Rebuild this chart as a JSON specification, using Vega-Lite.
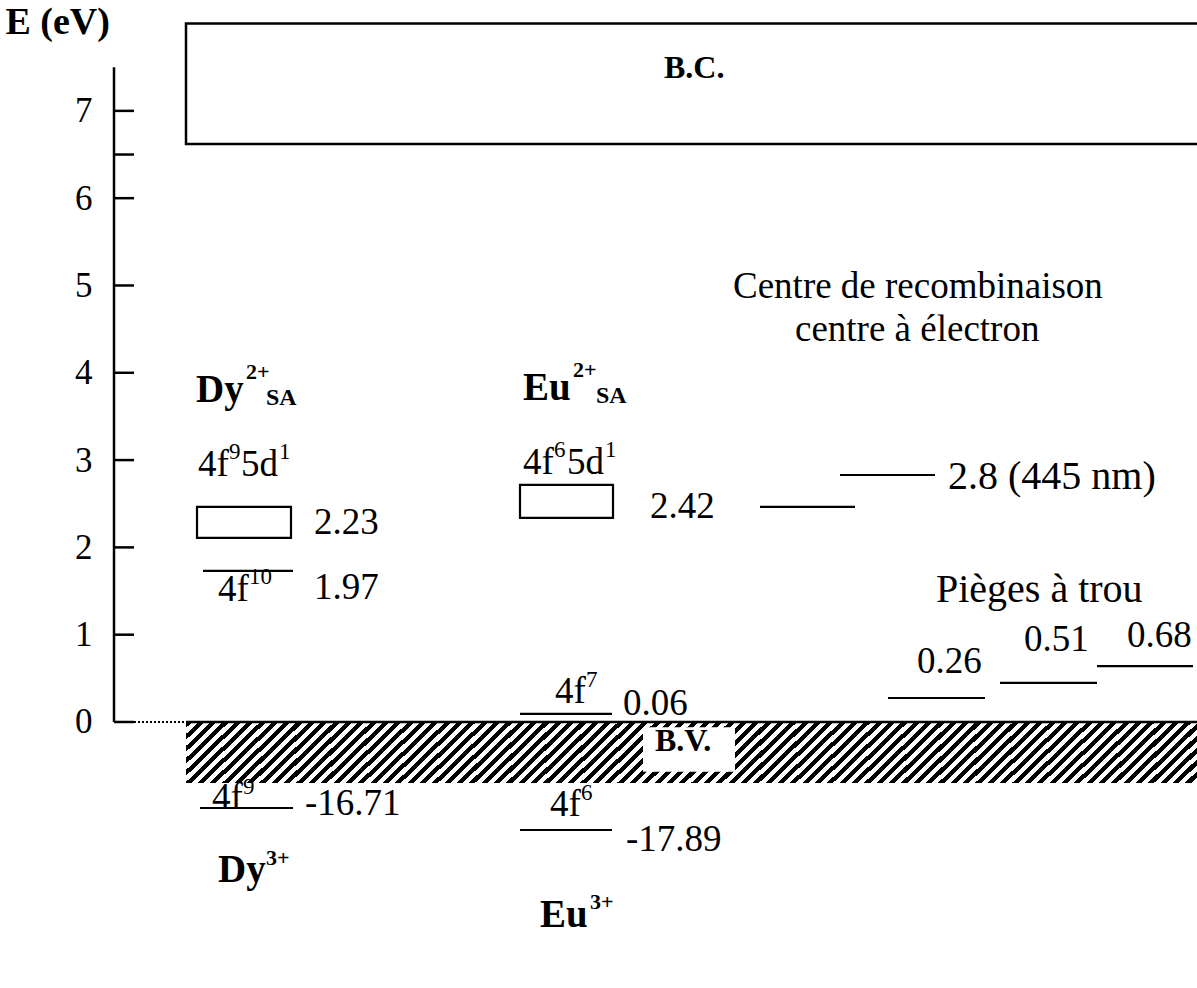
{
  "$schema": "https://vega.github.io/schema/vega-lite/v6.json",
  "width": 1083,
  "height": 988,
  "autosize": {"type": "none"},
  "padding": {"left": 114, "top": 0, "right": 0, "bottom": 0},
  "background": "white",
  "config": {"view": {"stroke": null}, "font": "Liberation Serif"},
  "datasets": {
    "bands": [{"name": "B.V.", "x": 72, "x2": 1083, "y": 0, "y2": -0.70}],
    "bvbox": [{"name": "B.V. label", "x": 529, "x2": 621, "y": -0.06, "y2": -0.57}],
    "bc": [{"name": "B.C.", "x": 72, "x2": 1095, "y": 6.62, "y2": 8.0}],
    "frame": [
      {"part": "axis", "x": 0, "x2": 0, "y": 0, "y2": 7.5},
      {"part": "tick", "x": 0, "x2": 20, "y": 0, "y2": 0},
      {"part": "tick", "x": 0, "x2": 20, "y": 1, "y2": 1},
      {"part": "tick", "x": 0, "x2": 20, "y": 2, "y2": 2},
      {"part": "tick", "x": 0, "x2": 20, "y": 3, "y2": 3},
      {"part": "tick", "x": 0, "x2": 20, "y": 4, "y2": 4},
      {"part": "tick", "x": 0, "x2": 20, "y": 5, "y2": 5},
      {"part": "tick", "x": 0, "x2": 20, "y": 6, "y2": 6},
      {"part": "tick", "x": 0, "x2": 20, "y": 6.5, "y2": 6.5},
      {"part": "tick", "x": 0, "x2": 20, "y": 7, "y2": 7},
      {"part": "zero", "x": 20, "x2": 72, "y": 0, "y2": 0}
    ],
    "boxes": [
      {"name": "Dy 4f9 5d1", "x": 83, "x2": 177, "y": 2.108, "y2": 2.463},
      {"name": "Eu 4f6 5d1", "x": 406, "x2": 499, "y": 2.337, "y2": 2.715}
    ],
    "levels": [
      {"name": "Dy 4f10", "x": 89, "x2": 179, "y": 1.730},
      {"name": "Eu 2.42", "x": 646, "x2": 741, "y": 2.463},
      {"name": "2.8 (445 nm)", "x": 726, "x2": 821, "y": 2.829},
      {"name": "trap 0.26", "x": 774, "x2": 871, "y": 0.275},
      {"name": "trap 0.51", "x": 886, "x2": 983, "y": 0.447},
      {"name": "trap 0.68", "x": 983, "x2": 1079, "y": 0.641},
      {"name": "Eu 4f7", "x": 406, "x2": 498, "y": 0.092},
      {"name": "Dy 4f9", "x": 86, "x2": 179, "y": -0.985},
      {"name": "Eu 4f6", "x": 406, "x2": 498, "y": -1.237}
    ],
    "texts": [
      {"t": "Centre de recombinaison", "x": 619, "y": 4.983, "role": "label"},
      {"t": "centre à électron", "x": 681, "y": 4.490, "role": "label"},
      {"t": "4f", "x": 84, "y": 2.944, "role": "label"},
      {"t": "5d", "x": 127, "y": 2.944, "role": "label"},
      {"t": "4f", "x": 409, "y": 2.967, "role": "label"},
      {"t": "5d", "x": 453, "y": 2.967, "role": "label"},
      {"t": "2.23", "x": 200, "y": 2.280, "role": "label"},
      {"t": "2.42", "x": 536, "y": 2.463, "role": "label"},
      {"t": "2.8 (445 nm)", "x": 834, "y": 2.806, "role": "label-wide"},
      {"t": "4f", "x": 104, "y": 1.512, "role": "label"},
      {"t": "1.97", "x": 200, "y": 1.535, "role": "label"},
      {"t": "Pièges à trou", "x": 822, "y": 1.512, "role": "label-wide"},
      {"t": "0.26", "x": 803, "y": 0.687, "role": "label"},
      {"t": "0.51", "x": 910, "y": 0.939, "role": "label"},
      {"t": "0.68", "x": 1013, "y": 0.985, "role": "label"},
      {"t": "4f", "x": 441, "y": 0.344, "role": "label"},
      {"t": "0.06", "x": 509, "y": 0.206, "role": "label"},
      {"t": "4f", "x": 98, "y": -0.871, "role": "label"},
      {"t": "-16.71", "x": 191, "y": -0.939, "role": "label"},
      {"t": "4f", "x": 436, "y": -0.951, "role": "label"},
      {"t": "-17.89", "x": 512, "y": -1.352, "role": "label"},
      {"t": "9", "x": 115, "y": 3.093, "role": "sup"},
      {"t": "1", "x": 165, "y": 3.093, "role": "sup"},
      {"t": "6", "x": 440, "y": 3.116, "role": "sup"},
      {"t": "1", "x": 491, "y": 3.116, "role": "sup"},
      {"t": "10", "x": 135, "y": 1.661, "role": "sup"},
      {"t": "7", "x": 472, "y": 0.481, "role": "sup"},
      {"t": "9", "x": 129, "y": -0.750, "role": "sup"},
      {"t": "6", "x": 467, "y": -0.813, "role": "sup"},
      {"t": "Dy", "x": 82, "y": 3.803, "role": "ion"},
      {"t": "Eu", "x": 409, "y": 3.826, "role": "ion"},
      {"t": "Dy", "x": 104, "y": -1.695, "role": "ion"},
      {"t": "Eu", "x": 426, "y": -2.211, "role": "ion"},
      {"t": "B.C.", "x": 550, "y": 7.491, "role": "band"},
      {"t": "B.V.", "x": 541, "y": -0.218, "role": "band"},
      {"t": "2+", "x": 132, "y": 4.009, "role": "ion-sup"},
      {"t": "2+", "x": 459, "y": 4.032, "role": "ion-sup"},
      {"t": "3+", "x": 152, "y": -1.558, "role": "ion-sup"},
      {"t": "3+", "x": 476, "y": -2.062, "role": "ion-sup"},
      {"t": "SA", "x": 152, "y": 3.711, "role": "ion-sub"},
      {"t": "SA", "x": 482, "y": 3.734, "role": "ion-sub"}
    ]
  },
  "encoding": {
    "x": {"field": "x", "type": "quantitative", "scale": {"domain": [0, 1083], "nice": false, "zero": false}, "axis": null},
    "y": {
      "field": "y", "type": "quantitative",
      "scale": {"domain": [-3.047, 8.270], "nice": false, "zero": false},
      "axis": {
        "values": [0, 1, 2, 3, 4, 5, 6, 7], "ticks": false, "domain": false, "grid": false,
        "labelFont": "Liberation Serif", "labelFontSize": 35, "labelColor": "#000", "labelPadding": 22,
        "title": "E (eV)", "titleAngle": 0, "titleX": -109, "titleY": 22, "titleAlign": "left", "titleBaseline": "middle",
        "titleFont": "Liberation Serif", "titleFontSize": 38, "titleFontWeight": "bold", "titleColor": "#000"
      }
    }
  },
  "layer": [
    {
      "data": {"name": "bands"},
      "mark": {"type": "rect", "fill": {"gradient": "linear", "x1": 0, "y1": 0, "x2": 1.0582, "y2": 0.0659, "stops": [
{"offset":0,"color":"#000"},
{"offset":0.0057,"color":"#000"},{"offset":0.0057,"color":"#fff"},
{"offset":0.0115,"color":"#fff"},{"offset":0.0115,"color":"#000"},
{"offset":0.0172,"color":"#000"},{"offset":0.0172,"color":"#fff"},
{"offset":0.0230,"color":"#fff"},{"offset":0.0230,"color":"#000"},
{"offset":0.0287,"color":"#000"},{"offset":0.0287,"color":"#fff"},
{"offset":0.0345,"color":"#fff"},{"offset":0.0345,"color":"#000"},
{"offset":0.0402,"color":"#000"},{"offset":0.0402,"color":"#fff"},
{"offset":0.0460,"color":"#fff"},{"offset":0.0460,"color":"#000"},
{"offset":0.0517,"color":"#000"},{"offset":0.0517,"color":"#fff"},
{"offset":0.0575,"color":"#fff"},{"offset":0.0575,"color":"#000"},
{"offset":0.0632,"color":"#000"},{"offset":0.0632,"color":"#fff"},
{"offset":0.0690,"color":"#fff"},{"offset":0.0690,"color":"#000"},
{"offset":0.0747,"color":"#000"},{"offset":0.0747,"color":"#fff"},
{"offset":0.0805,"color":"#fff"},{"offset":0.0805,"color":"#000"},
{"offset":0.0862,"color":"#000"},{"offset":0.0862,"color":"#fff"},
{"offset":0.0920,"color":"#fff"},{"offset":0.0920,"color":"#000"},
{"offset":0.0977,"color":"#000"},{"offset":0.0977,"color":"#fff"},
{"offset":0.1034,"color":"#fff"},{"offset":0.1034,"color":"#000"},
{"offset":0.1092,"color":"#000"},{"offset":0.1092,"color":"#fff"},
{"offset":0.1149,"color":"#fff"},{"offset":0.1149,"color":"#000"},
{"offset":0.1207,"color":"#000"},{"offset":0.1207,"color":"#fff"},
{"offset":0.1264,"color":"#fff"},{"offset":0.1264,"color":"#000"},
{"offset":0.1322,"color":"#000"},{"offset":0.1322,"color":"#fff"},
{"offset":0.1379,"color":"#fff"},{"offset":0.1379,"color":"#000"},
{"offset":0.1437,"color":"#000"},{"offset":0.1437,"color":"#fff"},
{"offset":0.1494,"color":"#fff"},{"offset":0.1494,"color":"#000"},
{"offset":0.1552,"color":"#000"},{"offset":0.1552,"color":"#fff"},
{"offset":0.1609,"color":"#fff"},{"offset":0.1609,"color":"#000"},
{"offset":0.1667,"color":"#000"},{"offset":0.1667,"color":"#fff"},
{"offset":0.1724,"color":"#fff"},{"offset":0.1724,"color":"#000"},
{"offset":0.1782,"color":"#000"},{"offset":0.1782,"color":"#fff"},
{"offset":0.1839,"color":"#fff"},{"offset":0.1839,"color":"#000"},
{"offset":0.1897,"color":"#000"},{"offset":0.1897,"color":"#fff"},
{"offset":0.1954,"color":"#fff"},{"offset":0.1954,"color":"#000"},
{"offset":0.2011,"color":"#000"},{"offset":0.2011,"color":"#fff"},
{"offset":0.2069,"color":"#fff"},{"offset":0.2069,"color":"#000"},
{"offset":0.2126,"color":"#000"},{"offset":0.2126,"color":"#fff"},
{"offset":0.2184,"color":"#fff"},{"offset":0.2184,"color":"#000"},
{"offset":0.2241,"color":"#000"},{"offset":0.2241,"color":"#fff"},
{"offset":0.2299,"color":"#fff"},{"offset":0.2299,"color":"#000"},
{"offset":0.2356,"color":"#000"},{"offset":0.2356,"color":"#fff"},
{"offset":0.2414,"color":"#fff"},{"offset":0.2414,"color":"#000"},
{"offset":0.2471,"color":"#000"},{"offset":0.2471,"color":"#fff"},
{"offset":0.2529,"color":"#fff"},{"offset":0.2529,"color":"#000"},
{"offset":0.2586,"color":"#000"},{"offset":0.2586,"color":"#fff"},
{"offset":0.2644,"color":"#fff"},{"offset":0.2644,"color":"#000"},
{"offset":0.2701,"color":"#000"},{"offset":0.2701,"color":"#fff"},
{"offset":0.2759,"color":"#fff"},{"offset":0.2759,"color":"#000"},
{"offset":0.2816,"color":"#000"},{"offset":0.2816,"color":"#fff"},
{"offset":0.2874,"color":"#fff"},{"offset":0.2874,"color":"#000"},
{"offset":0.2931,"color":"#000"},{"offset":0.2931,"color":"#fff"},
{"offset":0.2989,"color":"#fff"},{"offset":0.2989,"color":"#000"},
{"offset":0.3046,"color":"#000"},{"offset":0.3046,"color":"#fff"},
{"offset":0.3103,"color":"#fff"},{"offset":0.3103,"color":"#000"},
{"offset":0.3161,"color":"#000"},{"offset":0.3161,"color":"#fff"},
{"offset":0.3218,"color":"#fff"},{"offset":0.3218,"color":"#000"},
{"offset":0.3276,"color":"#000"},{"offset":0.3276,"color":"#fff"},
{"offset":0.3333,"color":"#fff"},{"offset":0.3333,"color":"#000"},
{"offset":0.3391,"color":"#000"},{"offset":0.3391,"color":"#fff"},
{"offset":0.3448,"color":"#fff"},{"offset":0.3448,"color":"#000"},
{"offset":0.3506,"color":"#000"},{"offset":0.3506,"color":"#fff"},
{"offset":0.3563,"color":"#fff"},{"offset":0.3563,"color":"#000"},
{"offset":0.3621,"color":"#000"},{"offset":0.3621,"color":"#fff"},
{"offset":0.3678,"color":"#fff"},{"offset":0.3678,"color":"#000"},
{"offset":0.3736,"color":"#000"},{"offset":0.3736,"color":"#fff"},
{"offset":0.3793,"color":"#fff"},{"offset":0.3793,"color":"#000"},
{"offset":0.3851,"color":"#000"},{"offset":0.3851,"color":"#fff"},
{"offset":0.3908,"color":"#fff"},{"offset":0.3908,"color":"#000"},
{"offset":0.3966,"color":"#000"},{"offset":0.3966,"color":"#fff"},
{"offset":0.4023,"color":"#fff"},{"offset":0.4023,"color":"#000"},
{"offset":0.4080,"color":"#000"},{"offset":0.4080,"color":"#fff"},
{"offset":0.4138,"color":"#fff"},{"offset":0.4138,"color":"#000"},
{"offset":0.4195,"color":"#000"},{"offset":0.4195,"color":"#fff"},
{"offset":0.4253,"color":"#fff"},{"offset":0.4253,"color":"#000"},
{"offset":0.4310,"color":"#000"},{"offset":0.4310,"color":"#fff"},
{"offset":0.4368,"color":"#fff"},{"offset":0.4368,"color":"#000"},
{"offset":0.4425,"color":"#000"},{"offset":0.4425,"color":"#fff"},
{"offset":0.4483,"color":"#fff"},{"offset":0.4483,"color":"#000"},
{"offset":0.4540,"color":"#000"},{"offset":0.4540,"color":"#fff"},
{"offset":0.4598,"color":"#fff"},{"offset":0.4598,"color":"#000"},
{"offset":0.4655,"color":"#000"},{"offset":0.4655,"color":"#fff"},
{"offset":0.4713,"color":"#fff"},{"offset":0.4713,"color":"#000"},
{"offset":0.4770,"color":"#000"},{"offset":0.4770,"color":"#fff"},
{"offset":0.4828,"color":"#fff"},{"offset":0.4828,"color":"#000"},
{"offset":0.4885,"color":"#000"},{"offset":0.4885,"color":"#fff"},
{"offset":0.4943,"color":"#fff"},{"offset":0.4943,"color":"#000"},
{"offset":0.5000,"color":"#000"},{"offset":0.5000,"color":"#fff"},
{"offset":0.5057,"color":"#fff"},{"offset":0.5057,"color":"#000"},
{"offset":0.5115,"color":"#000"},{"offset":0.5115,"color":"#fff"},
{"offset":0.5172,"color":"#fff"},{"offset":0.5172,"color":"#000"},
{"offset":0.5230,"color":"#000"},{"offset":0.5230,"color":"#fff"},
{"offset":0.5287,"color":"#fff"},{"offset":0.5287,"color":"#000"},
{"offset":0.5345,"color":"#000"},{"offset":0.5345,"color":"#fff"},
{"offset":0.5402,"color":"#fff"},{"offset":0.5402,"color":"#000"},
{"offset":0.5460,"color":"#000"},{"offset":0.5460,"color":"#fff"},
{"offset":0.5517,"color":"#fff"},{"offset":0.5517,"color":"#000"},
{"offset":0.5575,"color":"#000"},{"offset":0.5575,"color":"#fff"},
{"offset":0.5632,"color":"#fff"},{"offset":0.5632,"color":"#000"},
{"offset":0.5690,"color":"#000"},{"offset":0.5690,"color":"#fff"},
{"offset":0.5747,"color":"#fff"},{"offset":0.5747,"color":"#000"},
{"offset":0.5805,"color":"#000"},{"offset":0.5805,"color":"#fff"},
{"offset":0.5862,"color":"#fff"},{"offset":0.5862,"color":"#000"},
{"offset":0.5920,"color":"#000"},{"offset":0.5920,"color":"#fff"},
{"offset":0.5977,"color":"#fff"},{"offset":0.5977,"color":"#000"},
{"offset":0.6034,"color":"#000"},{"offset":0.6034,"color":"#fff"},
{"offset":0.6092,"color":"#fff"},{"offset":0.6092,"color":"#000"},
{"offset":0.6149,"color":"#000"},{"offset":0.6149,"color":"#fff"},
{"offset":0.6207,"color":"#fff"},{"offset":0.6207,"color":"#000"},
{"offset":0.6264,"color":"#000"},{"offset":0.6264,"color":"#fff"},
{"offset":0.6322,"color":"#fff"},{"offset":0.6322,"color":"#000"},
{"offset":0.6379,"color":"#000"},{"offset":0.6379,"color":"#fff"},
{"offset":0.6437,"color":"#fff"},{"offset":0.6437,"color":"#000"},
{"offset":0.6494,"color":"#000"},{"offset":0.6494,"color":"#fff"},
{"offset":0.6552,"color":"#fff"},{"offset":0.6552,"color":"#000"},
{"offset":0.6609,"color":"#000"},{"offset":0.6609,"color":"#fff"},
{"offset":0.6667,"color":"#fff"},{"offset":0.6667,"color":"#000"},
{"offset":0.6724,"color":"#000"},{"offset":0.6724,"color":"#fff"},
{"offset":0.6782,"color":"#fff"},{"offset":0.6782,"color":"#000"},
{"offset":0.6839,"color":"#000"},{"offset":0.6839,"color":"#fff"},
{"offset":0.6897,"color":"#fff"},{"offset":0.6897,"color":"#000"},
{"offset":0.6954,"color":"#000"},{"offset":0.6954,"color":"#fff"},
{"offset":0.7011,"color":"#fff"},{"offset":0.7011,"color":"#000"},
{"offset":0.7069,"color":"#000"},{"offset":0.7069,"color":"#fff"},
{"offset":0.7126,"color":"#fff"},{"offset":0.7126,"color":"#000"},
{"offset":0.7184,"color":"#000"},{"offset":0.7184,"color":"#fff"},
{"offset":0.7241,"color":"#fff"},{"offset":0.7241,"color":"#000"},
{"offset":0.7299,"color":"#000"},{"offset":0.7299,"color":"#fff"},
{"offset":0.7356,"color":"#fff"},{"offset":0.7356,"color":"#000"},
{"offset":0.7414,"color":"#000"},{"offset":0.7414,"color":"#fff"},
{"offset":0.7471,"color":"#fff"},{"offset":0.7471,"color":"#000"},
{"offset":0.7529,"color":"#000"},{"offset":0.7529,"color":"#fff"},
{"offset":0.7586,"color":"#fff"},{"offset":0.7586,"color":"#000"},
{"offset":0.7644,"color":"#000"},{"offset":0.7644,"color":"#fff"},
{"offset":0.7701,"color":"#fff"},{"offset":0.7701,"color":"#000"},
{"offset":0.7759,"color":"#000"},{"offset":0.7759,"color":"#fff"},
{"offset":0.7816,"color":"#fff"},{"offset":0.7816,"color":"#000"},
{"offset":0.7874,"color":"#000"},{"offset":0.7874,"color":"#fff"},
{"offset":0.7931,"color":"#fff"},{"offset":0.7931,"color":"#000"},
{"offset":0.7989,"color":"#000"},{"offset":0.7989,"color":"#fff"},
{"offset":0.8046,"color":"#fff"},{"offset":0.8046,"color":"#000"},
{"offset":0.8103,"color":"#000"},{"offset":0.8103,"color":"#fff"},
{"offset":0.8161,"color":"#fff"},{"offset":0.8161,"color":"#000"},
{"offset":0.8218,"color":"#000"},{"offset":0.8218,"color":"#fff"},
{"offset":0.8276,"color":"#fff"},{"offset":0.8276,"color":"#000"},
{"offset":0.8333,"color":"#000"},{"offset":0.8333,"color":"#fff"},
{"offset":0.8391,"color":"#fff"},{"offset":0.8391,"color":"#000"},
{"offset":0.8448,"color":"#000"},{"offset":0.8448,"color":"#fff"},
{"offset":0.8506,"color":"#fff"},{"offset":0.8506,"color":"#000"},
{"offset":0.8563,"color":"#000"},{"offset":0.8563,"color":"#fff"},
{"offset":0.8621,"color":"#fff"},{"offset":0.8621,"color":"#000"},
{"offset":0.8678,"color":"#000"},{"offset":0.8678,"color":"#fff"},
{"offset":0.8736,"color":"#fff"},{"offset":0.8736,"color":"#000"},
{"offset":0.8793,"color":"#000"},{"offset":0.8793,"color":"#fff"},
{"offset":0.8851,"color":"#fff"},{"offset":0.8851,"color":"#000"},
{"offset":0.8908,"color":"#000"},{"offset":0.8908,"color":"#fff"},
{"offset":0.8966,"color":"#fff"},{"offset":0.8966,"color":"#000"},
{"offset":0.9023,"color":"#000"},{"offset":0.9023,"color":"#fff"},
{"offset":0.9080,"color":"#fff"},{"offset":0.9080,"color":"#000"},
{"offset":0.9138,"color":"#000"},{"offset":0.9138,"color":"#fff"},
{"offset":0.9195,"color":"#fff"},{"offset":0.9195,"color":"#000"},
{"offset":0.9253,"color":"#000"},{"offset":0.9253,"color":"#fff"},
{"offset":0.9310,"color":"#fff"},{"offset":0.9310,"color":"#000"},
{"offset":0.9368,"color":"#000"},{"offset":0.9368,"color":"#fff"},
{"offset":0.9425,"color":"#fff"},{"offset":0.9425,"color":"#000"},
{"offset":0.9483,"color":"#000"},{"offset":0.9483,"color":"#fff"},
{"offset":0.9540,"color":"#fff"},{"offset":0.9540,"color":"#000"},
{"offset":0.9598,"color":"#000"},{"offset":0.9598,"color":"#fff"},
{"offset":0.9655,"color":"#fff"},{"offset":0.9655,"color":"#000"},
{"offset":0.9713,"color":"#000"},{"offset":0.9713,"color":"#fff"},
{"offset":0.9770,"color":"#fff"},{"offset":0.9770,"color":"#000"},
{"offset":0.9828,"color":"#000"},{"offset":0.9828,"color":"#fff"},
{"offset":0.9885,"color":"#fff"},{"offset":0.9885,"color":"#000"},
{"offset":0.9943,"color":"#000"},{"offset":0.9943,"color":"#fff"},
{"offset":1,"color":"#fff"}
      ]}},
      "encoding": {
        "x": {"field": "x", "type": "quantitative"},
        "x2": {"field": "x2"},
        "y": {"field": "y", "type": "quantitative"},
        "y2": {"field": "y2"}
      }
    },
    {
      "data": {"name": "bands"},
      "mark": {"type": "rule", "color": "#000", "strokeWidth": 2.5},
      "encoding": {"x": {"field": "x", "type": "quantitative"}, "x2": {"field": "x2"}, "y": {"field": "y", "type": "quantitative"}}
    },
    {
      "data": {"name": "bvbox"},
      "mark": {"type": "rect", "fill": "#fff"},
      "encoding": {"x": {"field": "x", "type": "quantitative"}, "x2": {"field": "x2"}, "y": {"field": "y", "type": "quantitative"}, "y2": {"field": "y2"}}
    },
    {
      "data": {"name": "bc"},
      "mark": {"type": "rect", "fill": "#fff", "stroke": "#000", "strokeWidth": 2.5, "clip": true},
      "encoding": {"x": {"field": "x", "type": "quantitative"}, "x2": {"field": "x2"}, "y": {"field": "y", "type": "quantitative"}, "y2": {"field": "y2"}}
    },
    {
      "data": {"name": "frame"},
      "transform": [{"filter": "datum.part !== 'zero'"}],
      "mark": {"type": "rule", "color": "#000", "strokeWidth": 2.5},
      "encoding": {"x": {"field": "x", "type": "quantitative"}, "x2": {"field": "x2"}, "y": {"field": "y", "type": "quantitative"}, "y2": {"field": "y2"}}
    },
    {
      "data": {"name": "frame"},
      "transform": [{"filter": "datum.part === 'zero'"}],
      "mark": {"type": "rule", "color": "#000", "strokeWidth": 2, "strokeDash": [2, 2]},
      "encoding": {"x": {"field": "x", "type": "quantitative"}, "x2": {"field": "x2"}, "y": {"field": "y", "type": "quantitative"}, "y2": {"field": "y2"}}
    },
    {
      "data": {"name": "boxes"},
      "mark": {"type": "rect", "fill": null, "stroke": "#000", "strokeWidth": 2.2},
      "encoding": {"x": {"field": "x", "type": "quantitative"}, "x2": {"field": "x2"}, "y": {"field": "y", "type": "quantitative"}, "y2": {"field": "y2"}}
    },
    {
      "data": {"name": "levels"},
      "mark": {"type": "rule", "color": "#000", "strokeWidth": 2.2},
      "encoding": {"x": {"field": "x", "type": "quantitative"}, "x2": {"field": "x2"}, "y": {"field": "y", "type": "quantitative"}}
    },
    {
      "data": {"name": "texts"},
      "transform": [{"filter": "datum.role === 'label'"}],
      "mark": {"type": "text", "align": "left", "baseline": "middle", "font": "Liberation Serif", "fontSize": 37, "color": "#000"},
      "encoding": {"x": {"field": "x", "type": "quantitative"}, "y": {"field": "y", "type": "quantitative"}, "text": {"field": "t"}}
    },
    {
      "data": {"name": "texts"},
      "transform": [{"filter": "datum.role === 'label-wide'"}],
      "mark": {"type": "text", "align": "left", "baseline": "middle", "font": "Liberation Serif", "fontSize": 40, "color": "#000"},
      "encoding": {"x": {"field": "x", "type": "quantitative"}, "y": {"field": "y", "type": "quantitative"}, "text": {"field": "t"}}
    },
    {
      "data": {"name": "texts"},
      "transform": [{"filter": "datum.role === 'sup'"}],
      "mark": {"type": "text", "align": "left", "baseline": "middle", "font": "Liberation Serif", "fontSize": 23, "color": "#000"},
      "encoding": {"x": {"field": "x", "type": "quantitative"}, "y": {"field": "y", "type": "quantitative"}, "text": {"field": "t"}}
    },
    {
      "data": {"name": "texts"},
      "transform": [{"filter": "datum.role === 'ion'"}],
      "mark": {"type": "text", "align": "left", "baseline": "middle", "font": "Liberation Serif", "fontSize": 39, "fontWeight": "bold", "color": "#000"},
      "encoding": {"x": {"field": "x", "type": "quantitative"}, "y": {"field": "y", "type": "quantitative"}, "text": {"field": "t"}}
    },
    {
      "data": {"name": "texts"},
      "transform": [{"filter": "datum.role === 'band'"}],
      "mark": {"type": "text", "align": "left", "baseline": "middle", "font": "Liberation Serif", "fontSize": 32, "fontWeight": "bold", "color": "#000"},
      "encoding": {"x": {"field": "x", "type": "quantitative"}, "y": {"field": "y", "type": "quantitative"}, "text": {"field": "t"}}
    },
    {
      "data": {"name": "texts"},
      "transform": [{"filter": "datum.role === 'ion-sup'"}],
      "mark": {"type": "text", "align": "left", "baseline": "middle", "font": "Liberation Serif", "fontSize": 22, "fontWeight": "bold", "color": "#000"},
      "encoding": {"x": {"field": "x", "type": "quantitative"}, "y": {"field": "y", "type": "quantitative"}, "text": {"field": "t"}}
    },
    {
      "data": {"name": "texts"},
      "transform": [{"filter": "datum.role === 'ion-sub'"}],
      "mark": {"type": "text", "align": "left", "baseline": "middle", "font": "Liberation Serif", "fontSize": 24, "fontWeight": "bold", "color": "#000"},
      "encoding": {"x": {"field": "x", "type": "quantitative"}, "y": {"field": "y", "type": "quantitative"}, "text": {"field": "t"}}
    }
  ]
}
